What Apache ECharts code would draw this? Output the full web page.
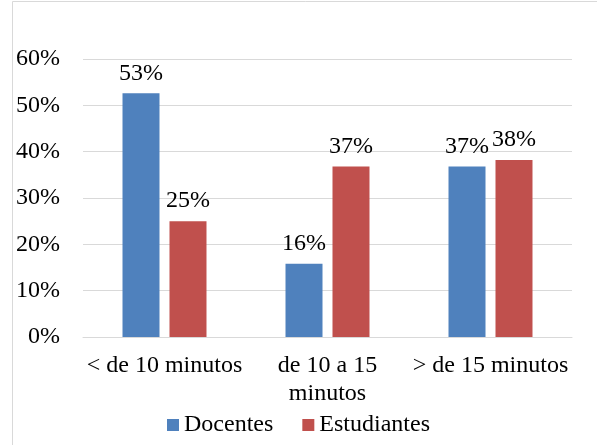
<!DOCTYPE html>
<html>
<head>
<meta charset="utf-8">
<script src="https://cdn.jsdelivr.net/npm/echarts@6/dist/echarts.min.js"></script>
<style>
html, body { margin: 0; padding: 0; background: #fff; }
#chart { width: 597px; height: 445px; }
</style>
</head>
<body>
<div id="chart"></div>
<script>
const categories = ['< de 10 minutos', 'de 10 a 15\nminutos', '> de 15 minutos'];
const docentes = [52.6, 15.8, 36.8];
const estudiantes = [25.0, 36.8, 38.2];
const yTicks = [0, 10, 20, 30, 40, 50, 60];

const font = 'Liberation Serif';
const chart = echarts.init(document.getElementById('chart'));

const labelStyle = {
    show: true,
    position: 'top',
    distance: 8,
    color: '#000',
    fontFamily: font,
    fontSize: 24,
    formatter: p => Math.round(p.value) + '%'
};

const option = {
    animation: false,
    textStyle: { fontFamily: font },
    graphic: [{
        type: 'rect',
        shape: { x: 12.5, y: 1.5, width: 620, height: 500 },
        style: { fill: 'none', stroke: '#d9d9d9', lineWidth: 1 }
    }],
    grid: { left: 83, right: 25, top: 59, bottom: 108 },
    legend: {
        bottom: 3,
        left: 'center',
        itemWidth: 12,
        itemHeight: 12,
        itemGap: 29,
        icon: 'rect',
        textStyle: {
            fontFamily: 'serif',
            fontSize: 24,
            color: '#000'
        },
        data: [
            { name: 'Docentes', textStyle: { fontFamily: 'serif' } },
            { name: 'Estudiantes', textStyle: { fontFamily: 'serif' } }
        ]
    },
    xAxis: {
        type: 'category',
        data: categories,
        axisLine: { lineStyle: { color: '#d9d9d9', width: 1 } },
        axisTick: { show: false },
        axisLabel: {
            color: '#000',
            fontFamily: font,
            fontSize: 24,
            lineHeight: 28,
            margin: 15,
            interval: 0
        }
    },
    yAxis: {
        type: 'value',
        min: yTicks[0],
        max: yTicks[yTicks.length - 1],
        interval: 10,
        axisLine: { show: false },
        axisTick: { show: false },
        splitLine: { lineStyle: { color: '#d9d9d9', width: 1 } },
        axisLabel: {
            color: '#000',
            fontFamily: font,
            fontSize: 24,
            margin: 23,
            formatter: v => v + '%'
        }
    },
    series: [
        {
            name: 'Docentes',
            type: 'bar',
            data: docentes,
            barWidth: 37,
            barGap: '27%',
            itemStyle: { color: '#4f81bd' },
            label: labelStyle
        },
        {
            name: 'Estudiantes',
            type: 'bar',
            data: estudiantes,
            barWidth: 37,
            itemStyle: { color: '#c0504d' },
            label: labelStyle
        }
    ]
};
chart.setOption(option);
</script>
</body>
</html>
